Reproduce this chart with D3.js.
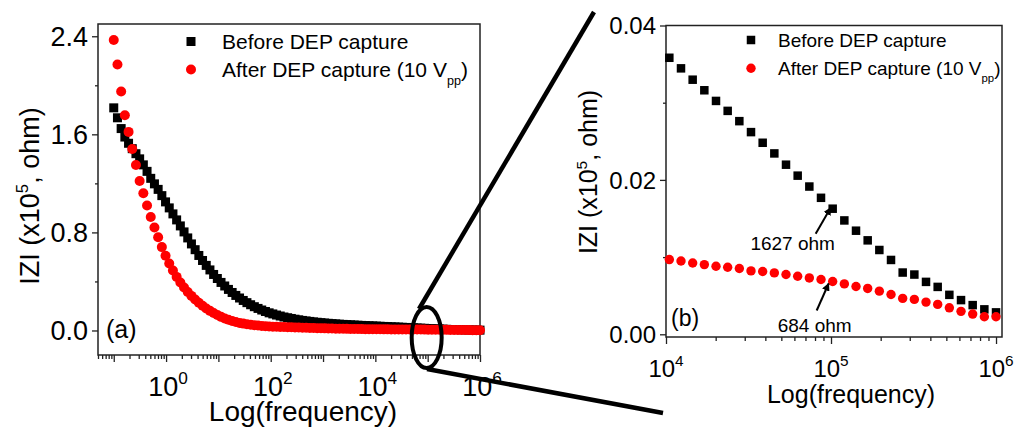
<!DOCTYPE html>
<html>
<head>
<meta charset="utf-8">
<script src="https://cdn.jsdelivr.net/npm/d3@7"></script>
<style>
  body { margin: 0; background: #fff; }
  text { font-family: Arial, "Liberation Sans", sans-serif; fill: #000; }
</style>
</head>
<body>
<script>
const freq = [
  0.1, 0.1177, 0.1385, 0.1630, 0.1918, 0.2257, 0.2656, 0.3126, 0.3678, 0.4329,
  0.5094, 0.5995, 0.7055, 0.8303, 0.9770, 1.150, 1.353, 1.592, 1.874, 2.205,
  2.595, 3.054, 3.594, 4.229, 4.977, 5.857, 6.893, 8.111, 9.546, 11.23,
  13.22, 15.56, 18.31, 21.54, 25.36, 29.84, 35.11, 41.32, 48.63, 57.22,
  67.34, 79.25, 93.26, 109.7, 129.2, 152.0, 178.9, 210.5, 247.7, 291.5,
  343.1, 403.7, 475.1, 559.1, 658.0, 774.3, 911.3, 1072, 1262, 1485,
  1748, 2057, 2420, 2848, 3352, 3945, 4642, 5463, 6429, 7565,
  8903, 10476, 12328, 14508, 17074, 20092, 23645, 27826, 32745, 38535,
  45349, 53367, 62803, 73907, 86975, 102353, 120450, 141747, 166810, 196304,
  231013, 271859, 319927, 376494, 443062, 521400, 613591, 722081, 849753, 1000000
];

// |Z| in units of 1e5 ohm
const before = [
  1.816, 1.735, 1.647, 1.578, 1.527, 1.483, 1.442, 1.400, 1.351, 1.298,
  1.241, 1.196, 1.151, 1.100, 1.049, 1.000, 0.951, 0.902, 0.853, 0.804,
  0.755, 0.706, 0.659, 0.612, 0.571, 0.531, 0.494, 0.457, 0.424, 0.392,
  0.363, 0.335, 0.310, 0.286, 0.265, 0.245, 0.227, 0.210, 0.194, 0.180,
  0.167, 0.155, 0.144, 0.135, 0.126, 0.118, 0.110, 0.104, 0.098, 0.092,
  0.087, 0.082, 0.078, 0.074, 0.070, 0.067, 0.064, 0.061, 0.0585, 0.056,
  0.0537, 0.0515, 0.0496, 0.0478, 0.0461, 0.0444, 0.0429, 0.0414, 0.0400, 0.0386,
  0.0372, 0.03582, 0.03445, 0.03298, 0.03161, 0.03023, 0.02894, 0.02761, 0.02619, 0.02481,
  0.02343, 0.02197, 0.02055, 0.01914, 0.01768, 0.01627, 0.01475, 0.01342, 0.01217, 0.01092,
  0.00963, 0.00800, 0.00774, 0.00679, 0.00614, 0.00511, 0.00443, 0.00378, 0.00323, 0.00284
];

const after = [
  2.37, 2.17, 1.95, 1.755, 1.62, 1.48, 1.35, 1.22, 1.12, 1.02,
  0.925, 0.84, 0.76, 0.68, 0.61, 0.547, 0.49, 0.437, 0.392, 0.351,
  0.314, 0.282, 0.253, 0.226, 0.202, 0.180, 0.160, 0.142, 0.126, 0.111,
  0.098, 0.087, 0.077, 0.069, 0.062, 0.056, 0.051, 0.047, 0.043, 0.040,
  0.037, 0.035, 0.033, 0.031, 0.030, 0.029, 0.028, 0.027, 0.026, 0.025,
  0.024, 0.023, 0.022, 0.021, 0.020, 0.019, 0.018, 0.0172, 0.0165, 0.0158,
  0.0151, 0.0145, 0.0139, 0.0133, 0.0127, 0.0122, 0.0117, 0.0112, 0.0107, 0.0103,
  0.0100, 0.00968, 0.00950, 0.00924, 0.00903, 0.00881, 0.00868, 0.00852, 0.00821, 0.00813,
  0.00795, 0.00774, 0.00752, 0.00730, 0.00710, 0.00684, 0.00653, 0.00619, 0.00594, 0.00559,
  0.00516, 0.00465, 0.00452, 0.00417, 0.00387, 0.00343, 0.00297, 0.00262, 0.00227, 0.00227
];

const leftYTicks = [0, 0.8, 1.6, 2.4];
const leftYMinor = [0.4, 1.2, 2.0];
const leftXLabels = [0, 2, 4, 6];          // exponents that get a label
const rightYTicks = [0, 0.02, 0.04];
const rightYMinor = [0.01, 0.03];
const rightXLabels = [4, 5, 6];
const seriesNames = ["Before DEP capture", "After DEP capture (10 V"];
const notes = [{ i: 85, key: "before", text: "1627 ohm" }, { i: 85, key: "after", text: "684 ohm" }];

const data = freq.map((f, i) => ({ f, before: before[i], after: after[i] }));

const W = 1014, H = 428;
const svg = d3.select("body").append("svg")
  .attr("width", W).attr("height", H)
  .style("display", "block");

svg.append("rect").attr("width", W).attr("height", H).attr("fill", "#fff");

const defs = svg.append("defs");
defs.append("marker")
  .attr("id", "arrow")
  .attr("viewBox", "0 -5 10 10")
  .attr("refX", 9).attr("refY", 0)
  .attr("markerWidth", 4).attr("markerHeight", 4)
  .attr("orient", "auto")
  .append("path")
  .attr("d", "M0,-5L10,0L0,5Z")
  .attr("fill", "#000");

function minorLogTicks(lo, hi) {
  const out = [];
  for (let k = Math.floor(Math.log10(lo)); k <= Math.ceil(Math.log10(hi)); k++) {
    for (let m = 2; m <= 9; m++) {
      const v = m * Math.pow(10, k);
      if (v >= lo && v <= hi) out.push(v);
    }
  }
  return out;
}

function majorLogTicks(lo, hi) {
  const out = [];
  for (let k = Math.ceil(Math.log10(lo) - 1e-9); Math.pow(10, k) <= hi * 1.0001; k++) out.push(Math.pow(10, k));
  return out;
}

function drawPanel(p) {
  const { x, y, rows, fs, sq, r } = p;
  const [x0, x1] = x.range();
  const [y0, y1] = y.range(); // y0 bottom, y1 top
  const g = svg.append("g");

  // ticks
  const xd = x.domain();
  g.append("g").attr("transform", `translate(0,${y0})`)
    .call(d3.axisBottom(x).tickValues(majorLogTicks(xd[0], xd[1])).tickSize(7).tickFormat(""))
    .call(s => s.select(".domain").remove());
  g.append("g").attr("transform", `translate(0,${y0})`)
    .call(d3.axisBottom(x).tickValues(minorLogTicks(xd[0], xd[1])).tickSize(4).tickFormat(""))
    .call(s => s.select(".domain").remove());
  g.append("g").attr("transform", `translate(${x0},0)`)
    .call(d3.axisLeft(y).tickValues(p.yTicks).tickSize(6).tickFormat(""))
    .call(s => s.select(".domain").remove());
  g.append("g").attr("transform", `translate(${x0},0)`)
    .call(d3.axisLeft(y).tickValues(p.yMinor).tickSize(3).tickFormat(""))
    .call(s => s.select(".domain").remove());
  g.selectAll(".tick line").attr("stroke", "#222").attr("stroke-width", 1.3);

  // y tick labels
  g.append("g").selectAll("text").data(p.yTicks).join("text")
    .attr("x", x0 - 10)
    .attr("y", d => y(d) + fs.tick * 0.36)
    .attr("text-anchor", "end")
    .attr("font-size", fs.tick)
    .text(d => d3.format(p.yFmt)(d));

  // x tick labels 10^n
  const xl = g.append("g").selectAll("text").data(p.xLabels).join("text")
    .attr("x", d => x(Math.pow(10, d)) + p.xLabelDx)
    .attr("y", p.xLabelY)
    .attr("text-anchor", "middle")
    .attr("font-size", fs.tick);
  xl.append("tspan").text("10");
  xl.append("tspan").attr("dy", -fs.tick * 0.45).attr("font-size", fs.tick * 0.64).text(d => d);

  // frame
  g.append("rect")
    .attr("x", x0).attr("y", y1)
    .attr("width", x1 - x0).attr("height", y0 - y1)
    .attr("fill", "none").attr("stroke", "#222").attr("stroke-width", 1.5);

  // markers: squares first, circles on top
  g.append("g").selectAll("rect").data(rows).join("rect")
    .attr("x", d => x(d.f) - sq / 2)
    .attr("y", d => y(d.before) - sq / 2)
    .attr("width", sq).attr("height", sq)
    .attr("fill", "#000");
  g.append("g").selectAll("circle").data(rows).join("circle")
    .attr("cx", d => x(d.f))
    .attr("cy", d => y(d.after))
    .attr("r", r)
    .attr("fill", "#ff0000");

  // legend
  const lg = g.append("g");
  lg.append("rect")
    .attr("x", p.leg.x - sq / 2).attr("y", p.leg.y - sq / 2)
    .attr("width", sq).attr("height", sq).attr("fill", "#000");
  lg.append("circle")
    .attr("cx", p.leg.x).attr("cy", p.leg.y + p.leg.gap)
    .attr("r", r).attr("fill", "#ff0000");
  lg.append("text")
    .attr("x", p.leg.tx).attr("y", p.leg.y + fs.leg * 0.36)
    .attr("font-size", fs.leg).text(seriesNames[0]);
  const t2 = lg.append("text")
    .attr("x", p.leg.tx).attr("y", p.leg.y + p.leg.gap + fs.leg * 0.36)
    .attr("font-size", fs.leg);
  t2.append("tspan").text(seriesNames[1]);
  t2.append("tspan").attr("dy", fs.leg * 0.38).attr("font-size", fs.leg * 0.6).text("pp");
  t2.append("tspan").attr("dy", -fs.leg * 0.38).text(")");

  // axis titles
  g.append("text")
    .attr("x", p.xTitle.x).attr("y", p.xTitle.y)
    .attr("text-anchor", "middle")
    .attr("font-size", fs.xtitle)
    .text("Log(frequency)");
  const yt = g.append("text")
    .attr("transform", `translate(${p.yTitle.x},${p.yTitle.y}) rotate(-90)`)
    .attr("text-anchor", "middle")
    .attr("font-size", fs.title);
  yt.append("tspan").text("IZI (x10");
  yt.append("tspan").attr("dy", -fs.title * 0.42).attr("font-size", fs.title * 0.62).text("5");
  yt.append("tspan").attr("dy", fs.title * 0.42).text(", ohm)");

  // panel tag
  g.append("text")
    .attr("x", p.tag.x).attr("y", p.tag.y)
    .attr("font-size", p.tag.fs)
    .text(p.tag.text);

  return g;
}

// (a) full sweep
const xL = d3.scaleLog([0.05, 1e6], [98, 480]);
const yL = d3.scaleLinear([-0.2, 2.5], [355, 24]);
drawPanel({
  x: xL, y: yL, rows: data,
  fs: { tick: 27, leg: 21, title: 27, xtitle: 28 },
  sq: 9, r: 5,
  yTicks: leftYTicks, yMinor: leftYMinor, yFmt: ".1f",
  xLabels: leftXLabels, xLabelY: 396, xLabelDx: 2,
  leg: { x: 191, y: 41.5, gap: 28, tx: 222 },
  xTitle: { x: 303, y: 421 },
  yTitle: { x: 39, y: 196 },
  tag: { x: 106, y: 338, fs: 25, text: "(a)" }
});

// (b) zoom on 10^4 - 10^6
const xR = d3.scaleLog([1e4, 1.087e6], [666, 1002]);
const yR = d3.scaleLinear([-0.00035, 0.04], [337, 25.5]);
const gR = drawPanel({
  x: xR, y: yR, rows: data.filter(d => d.f >= 1e4),
  fs: { tick: 24, leg: 19, title: 25, xtitle: 25 },
  sq: 8.5, r: 4.7,
  yTicks: rightYTicks, yMinor: rightYMinor, yFmt: ".2f",
  xLabels: rightXLabels, xLabelY: 377, xLabelDx: 0,
  leg: { x: 751, y: 40, gap: 28.3, tx: 778 },
  xTitle: { x: 851, y: 403 },
  yTitle: { x: 597, y: 172 },
  tag: { x: 671, y: 326, fs: 23, text: "(b)" }
});

// value call-outs with arrows
notes.forEach((n, k) => {
  const d = data[n.i];
  const px = xR(d.f), py = yR(d[n.key]);
  const tail = k === 0 ? [px - 17, py + 25] : [px - 16, py + 29];
  const tip = k === 0 ? [px - 2, py - 1] : [px - 4, py + 2];
  gR.append("line")
    .attr("x1", tail[0]).attr("y1", tail[1])
    .attr("x2", tip[0]).attr("y2", tip[1])
    .attr("stroke", "#000").attr("stroke-width", 2)
    .attr("marker-end", "url(#arrow)");
  gR.append("text")
    .attr("x", k === 0 ? px - 40 : px - 18)
    .attr("y", k === 0 ? py + 41 : py + 51)
    .attr("text-anchor", "middle")
    .attr("font-size", 19)
    .text(n.text);
});

// magnifier ellipse and connector lines
const zoomG = svg.append("g").attr("stroke", "#000").attr("fill", "none");
zoomG.append("ellipse")
  .attr("cx", xL(1e5) - 1).attr("cy", yL(0) + 7)
  .attr("rx", 15).attr("ry", 30.5)
  .attr("stroke-width", 4);
zoomG.append("line")
  .attr("x1", 419).attr("y1", 309).attr("x2", 594).attr("y2", 12)
  .attr("stroke-width", 4.5);
zoomG.append("line")
  .attr("x1", 427).attr("y1", 369).attr("x2", 663).attr("y2", 413)
  .attr("stroke-width", 4.5);
</script>
</body>
</html>
